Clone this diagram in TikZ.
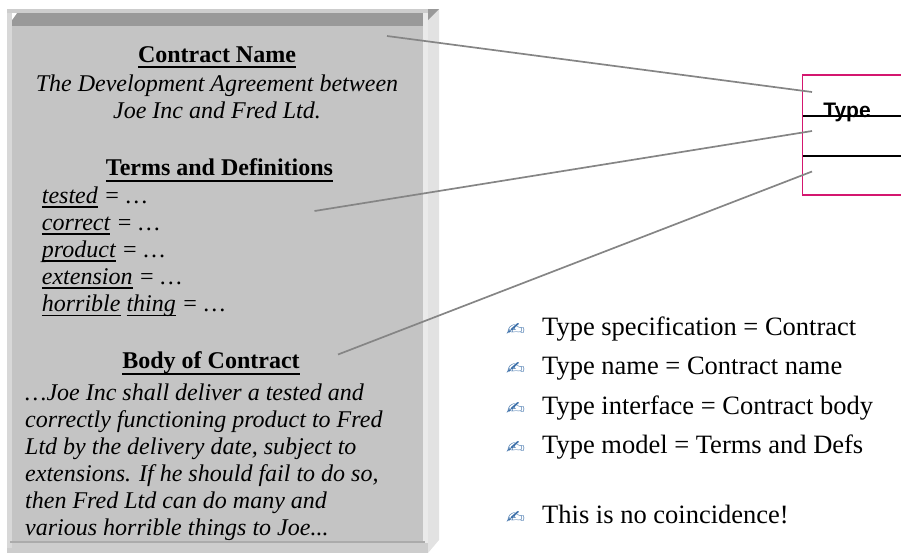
\documentclass[tikz,border=0pt]{standalone}
\usepackage{fontspec}
\setmainfont{Liberation Serif}
\newfontfamily\uifont{Liberation Sans}
\newfontfamily\penfont{DejaVu Sans}

\definecolor{facegray}{HTML}{C4C4C4}
\definecolor{basegray}{HTML}{CDCDCD}
\definecolor{bandgray}{HTML}{999999}
\definecolor{edgegray}{HTML}{E2E2E2}
\definecolor{shinegray}{HTML}{EAEAEA}
\definecolor{sidegray}{HTML}{D8D8D8}
\definecolor{sillgray}{HTML}{ABABAB}
\definecolor{linkgray}{HTML}{858585}
\definecolor{typeframe}{HTML}{D4176F}
\definecolor{penblue}{HTML}{3A6EA8}

% underline with a fixed drop below the baseline
\newsavebox\ulbox
\newcommand\ulword[3]{\sbox\ulbox{#3}\rlap{\rule[-#1]{\wd\ulbox}{#2}}\usebox\ulbox}
\newcommand\hul[1]{\ulword{6.2pt}{2pt}{#1}}
\newcommand\tul[1]{\ulword{4.6pt}{1.8pt}{#1}}

\tikzset{
  heading/.style={anchor=base, inner sep=0pt, font=\fontsize{24}{27}\selectfont\bfseries},
  centreline/.style={anchor=base, inner sep=0pt, font=\fontsize{24}{27}\selectfont\itshape},
  clause/.style={anchor=base west, inner sep=0pt, font=\fontsize{24}{27}\selectfont\itshape},
  point/.style={anchor=base west, inner sep=0pt, font=\fontsize{26.5}{30}\selectfont},
  pen/.style={anchor=base west, inner sep=0pt, text=penblue, font=\penfont\fontsize{16}{16}\selectfont},
  link/.style={draw=linkgray, line width=1.7pt},
  typeline/.style={draw=black, line width=1.4pt},
}

\begin{document}
\begin{tikzpicture}[x=1pt, y=-1pt]
\useasboundingbox (0,0) rectangle (901,555);

% ---- bevelled contract panel ----
\fill[basegray] (7,9) rectangle (428,553);
\fill[edgegray] (428,9) -- (439,9) -- (439,540) -- (428,553) -- cycle;
\fill[bandgray] (428,9) -- (439,9) -- (428,20) -- cycle;
\fill[shinegray] (423,13) rectangle (428,543);
\fill[sidegray] (7,13) rectangle (12,548);
\fill[facegray] (12,13) rectangle (423,541);
\fill[bandgray] (12,13) rectangle (423,26);
\fill[white] (12,13) -- (17,13) -- (12,20) -- cycle;
\fill[sillgray] (10,540.5) rectangle (425,543);

% ---- contract name ----
\node[heading] (cname) at (217,62) {\hul{Contract Name}};
\node[centreline] (cdesc1) at (217,91) {The Development Agreement between};
\node[centreline] (cdesc2) at (217,118.3) {Joe Inc and Fred Ltd.};

% ---- terms and definitions ----
\node[heading] (tdhead) at (219.5,175.7) {\hul{Terms and Definitions}};
\node[clause] (term1) at (41.7,203)   {\tul{tested} = …};
\node[clause] (term2) at (41.7,230.2) {\tul{correct} = …};
\node[clause] (term3) at (41.7,257.4) {\tul{product} = …};
\node[clause] (term4) at (41.7,284.6) {\tul{extension} = …};
\node[clause] (term5) at (41.7,311.8) {\tul{horrible} \tul{thing} = …};

% ---- body of contract ----
\node[heading] (bhead) at (211,368.3) {\hul{Body of Contract}};
\node[clause] (body1) at (25,400)   {…Joe Inc shall deliver a tested and};
\node[clause] (body2) at (25,427)   {correctly functioning product to Fred};
\node[clause] (body3) at (25,454)   {Ltd by the delivery date, subject to};
\node[clause] (body4) at (25,481)   {extensions. If he should fail to do so,};
\node[clause] (body5) at (25,508)   {then Fred Ltd can do many and};
\node[clause] (body6) at (25,535)   {various horrible things to Joe...};

% ---- type symbol ----
\draw[draw=typeframe, line width=1.6pt] (903,75) -- (802.5,75) -- (802.5,195) -- (903,195);
\draw[typeline] (802.5,116) -- (903,116);
\draw[typeline] (802.5,156) -- (903,156);
\node[anchor=base, inner sep=0pt, font=\uifont\bfseries\fontsize{21}{22}\selectfont] (tname) at (847,117) {Type};

% ---- connectors from contract parts to type compartments ----
\coordinate (fromname) at (387,36);
\coordinate (fromterms) at (314.5,211);
\coordinate (frombody) at (338,354.5);
\coordinate (slotname) at (812,92);
\coordinate (slotmodel) at (812,131);
\coordinate (slotiface) at (812,171.5);
\draw[link] (fromname) -- (slotname);
\draw[link] (fromterms) -- (slotmodel);
\draw[link] (frombody) -- (slotiface);

% ---- correspondence list ----
\foreach \i/\y/\t in {1/335/{Type specification = Contract},
                      2/374.5/{Type name = Contract name},
                      3/414/{Type interface = Contract body},
                      4/453/{Type model = Terms and Defs},
                      5/523/{This is no coincidence!}} {
  \node[pen] (pen\i) at (506,\y) {\resizebox{19pt}{12pt}{✍}};
  \node[point] (pt\i) at (542,\y) {\t};
}
\end{tikzpicture}
\end{document}
